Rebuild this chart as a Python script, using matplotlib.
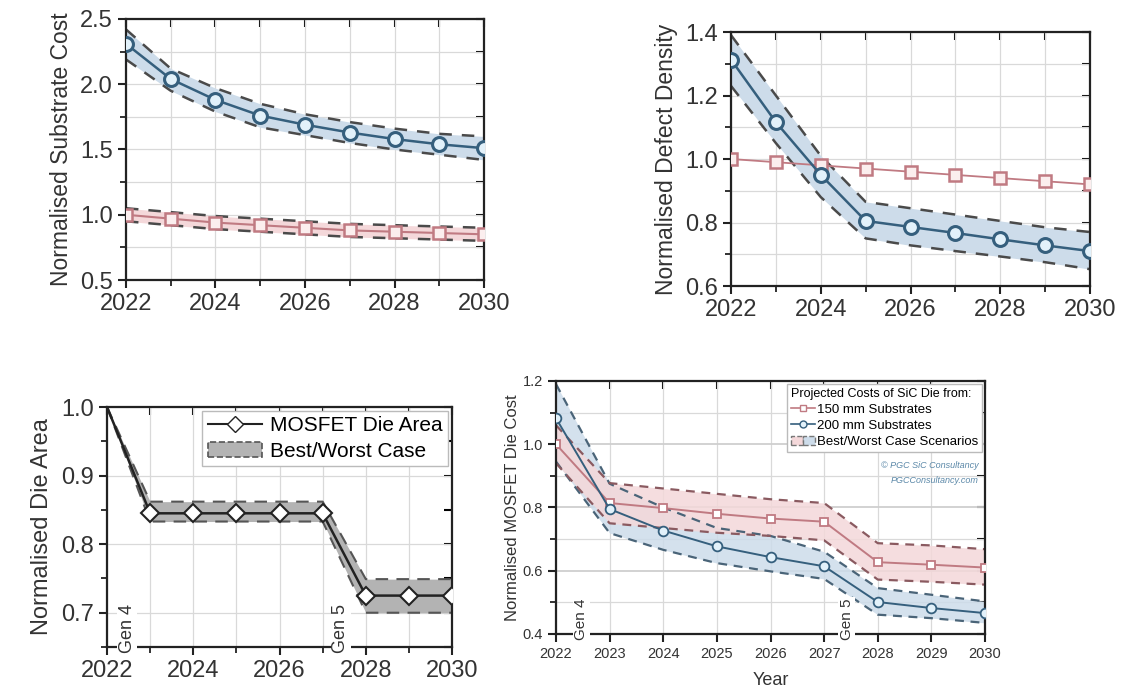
import numpy as np
import matplotlib
matplotlib.use('Agg')
import matplotlib.pyplot as plt
from matplotlib.ticker import MultipleLocator
from matplotlib.patches import Patch
from matplotlib.lines import Line2D
from matplotlib.legend_handler import HandlerTuple

plt.rcParams['font.family'] = ['Liberation Sans', 'DejaVu Sans']

years = [2022, 2023, 2024, 2025, 2026, 2027, 2028, 2029, 2030]

# substrate cost
sub_200 = [2.31, 2.04, 1.88, 1.76, 1.69, 1.63, 1.58, 1.54, 1.51]
sub_200_hi = [2.42, 2.12, 1.97, 1.85, 1.77, 1.71, 1.66, 1.62, 1.60]
sub_200_lo = [2.19, 1.95, 1.79, 1.67, 1.61, 1.55, 1.50, 1.46, 1.42]
sub_150 = [1.00, 0.97, 0.94, 0.92, 0.90, 0.88, 0.87, 0.86, 0.85]
sub_150_hi = [1.05, 1.02, 0.99, 0.97, 0.95, 0.93, 0.92, 0.91, 0.90]
sub_150_lo = [0.95, 0.92, 0.89, 0.87, 0.85, 0.83, 0.82, 0.81, 0.80]

# defect density
dd_200 = [1.313, 1.116, 0.95, 0.805, 0.786, 0.767, 0.747, 0.728, 0.71]
dd_200_hi = [1.39, 1.20, 1.01, 0.865, 0.845, 0.825, 0.805, 0.785, 0.77]
dd_200_lo = [1.23, 1.05, 0.88, 0.75, 0.728, 0.71, 0.693, 0.675, 0.653]
dd_150 = [1.00, 0.99, 0.98, 0.97, 0.96, 0.95, 0.94, 0.93, 0.92]

# die area
die_area = [1.0, 0.845, 0.845, 0.845, 0.845, 0.845, 0.725, 0.725, 0.725]
die_area_hi = [1.0, 0.862, 0.862, 0.862, 0.862, 0.862, 0.749, 0.749, 0.749]
die_area_lo = [1.0, 0.833, 0.833, 0.833, 0.833, 0.833, 0.70, 0.70, 0.70]

# die cost
dc_150 = [1.00, 0.814, 0.798, 0.78, 0.765, 0.755, 0.627, 0.619, 0.61]
dc_150_hi = [1.06, 0.877, 0.86, 0.843, 0.826, 0.814, 0.687, 0.68, 0.668]
dc_150_lo = [0.94, 0.75, 0.735, 0.72, 0.71, 0.696, 0.572, 0.565, 0.556]
dc_200 = [1.082, 0.795, 0.727, 0.677, 0.643, 0.614, 0.501, 0.482, 0.466]
dc_200_hi = [1.19, 0.875, 0.80, 0.735, 0.71, 0.66, 0.545, 0.524, 0.503]
dc_200_lo = [0.945, 0.719, 0.666, 0.624, 0.598, 0.574, 0.461, 0.45, 0.435]

gen_labels = ['Gen 4', 'Gen 5']
gen_x = [2022.47, 2027.42]

BLUE = '#355f7d'
BLUE_FILL = '#cddcea'
BLUE_FACE = '#e2f1fa'
RED = '#c07a82'
RED_FILL = '#f4d8da'
GRID = '#d9d9d9'


def style_axes(ax, ymaj, ymin, fs, xlab_step=2):
    ax.set_xlim(2022, 2030)
    ax.xaxis.set_major_locator(MultipleLocator(xlab_step))
    ax.xaxis.set_minor_locator(MultipleLocator(1))
    ax.yaxis.set_major_locator(MultipleLocator(ymaj))
    ax.yaxis.set_minor_locator(MultipleLocator(ymin))
    ax.grid(True, which='both', color=GRID, lw=0.9)
    ax.set_axisbelow(True)
    ax.tick_params(which='major', direction='out', length=6, width=1.5,
                   labelsize=fs, colors='#222222', labelcolor='#333333')
    ax.tick_params(which='minor', direction='out', length=4, width=1.3,
                   colors='#222222')
    for s in ax.spines.values():
        s.set_linewidth(1.6)
        s.set_color('#222222')
    # mirrored inward ticks on top and right
    top = ax.secondary_xaxis('top')
    top.xaxis.set_major_locator(MultipleLocator(xlab_step))
    top.xaxis.set_minor_locator(MultipleLocator(1))
    top.tick_params(which='both', direction='in', labeltop=False, width=1.5, length=6)
    top.spines['top'].set_visible(False)
    right = ax.secondary_yaxis('right')
    right.yaxis.set_major_locator(MultipleLocator(ymaj))
    right.yaxis.set_minor_locator(MultipleLocator(ymin))
    right.tick_params(which='both', direction='in', labelright=False, width=1.5, length=6)
    right.spines['right'].set_visible(False)


fig = plt.figure(figsize=(11.41, 6.90), dpi=100)

# ---- substrate cost
ax1 = fig.add_axes([0.1104, 0.5942, 0.3138, 0.3783])
ax1.fill_between(years, sub_200_lo, sub_200_hi, color=BLUE_FILL, lw=0)
ax1.plot(years, sub_200_hi, '--', color='#4a4a4a', lw=1.8, dashes=(5, 4))
ax1.plot(years, sub_200_lo, '--', color='#4a4a4a', lw=1.8, dashes=(5, 4))
ax1.plot(years, sub_200, '-o', color=BLUE, lw=1.8, ms=10, mfc=BLUE_FACE, mew=2.2,
         zorder=5)
ax1.fill_between(years, sub_150_lo, sub_150_hi, color=RED_FILL, lw=0)
ax1.plot(years, sub_150_hi, '--', color='#4a4a4a', lw=1.8, dashes=(5, 4))
ax1.plot(years, sub_150_lo, '--', color='#4a4a4a', lw=1.8, dashes=(5, 4))
ax1.plot(years, sub_150, '-s', color=RED, lw=1.5, ms=9, mfc='#fbeeee', mew=1.8,
         zorder=5)
ax1.set_ylim(0.5, 2.5)
style_axes(ax1, 0.5, 0.25, 17)
ax1.set_ylabel('Normalised Substrate Cost', fontsize=16.5, color='#333333', labelpad=5)

# ---- defect density
ax2 = fig.add_axes([0.6407, 0.5855, 0.3146, 0.3681])
ax2.fill_between(years, dd_200_lo, dd_200_hi, color=BLUE_FILL, lw=0)
ax2.plot(years, dd_200_hi, '--', color='#4a4a4a', lw=1.8, dashes=(5, 4))
ax2.plot(years, dd_200_lo, '--', color='#4a4a4a', lw=1.8, dashes=(5, 4))
ax2.plot(years, dd_150, '-s', color=RED, lw=1.3, ms=9, mfc='#fbeeee', mew=1.8,
         zorder=4)
ax2.plot(years, dd_200, '-o', color=BLUE, lw=1.8, ms=10, mfc=BLUE_FACE, mew=2.2,
         zorder=5)
ax2.set_ylim(0.6, 1.4)
style_axes(ax2, 0.2, 0.1, 17)
ax2.set_ylabel('Normalised Defect Density', fontsize=16.5, color='#333333', labelpad=5)

# ---- die area
ax3 = fig.add_axes([0.0938, 0.0623, 0.3024, 0.3478])
ax3.fill_between(years, die_area_lo, die_area_hi, color='#b3b3b3', lw=0)
ax3.plot(years, die_area_hi, '--', color='#555555', lw=1.5, dashes=(6, 4))
ax3.plot(years, die_area_lo, '--', color='#555555', lw=1.5, dashes=(6, 4))
ax3.plot(years, die_area, '-D', color='#222222', lw=1.8, ms=9, mfc='white', mew=1.5,
         markevery=list(range(1, len(years))), zorder=5)
ax3.set_ylim(0.65, 1.0)
style_axes(ax3, 0.1, 0.05, 17)
ax3.grid(False, which='minor', axis='y')
ax3.set_ylabel('Normalised Die Area', fontsize=17, color='#333333', labelpad=6)
for lab, gx in zip(gen_labels, gen_x):
    ax3.text(gx, 0.641, lab, rotation=90, ha='center', va='bottom', fontsize=13,
             color='#333333', zorder=10, clip_on=False,
             bbox=dict(facecolor='white', edgecolor='none', pad=1))
h3 = [Line2D([], [], color='#222222', marker='D', mfc='white', ms=8, lw=1.5),
      Patch(facecolor='#b3b3b3', edgecolor='#555555', ls='--', lw=1.2)]
ax3.legend(h3, ['MOSFET Die Area', 'Best/Worst Case'], loc='upper right',
           bbox_to_anchor=(1.0, 1.0), fontsize=15, frameon=True, fancybox=False,
           edgecolor='#bbbbbb', framealpha=1, borderpad=0.25, handlelength=2.6,
           labelspacing=0.3, borderaxespad=0.2, handletextpad=0.4)

# ---- die cost
ax4 = fig.add_axes([0.4873, 0.0812, 0.376, 0.3667])
ax4.fill_between(years, dc_200_lo, dc_200_hi, color=BLUE_FILL, alpha=0.85, lw=0)
ax4.fill_between(years, dc_150_lo, dc_150_hi, color=RED_FILL, alpha=0.85, lw=0)
for arr, c in [(dc_200_hi, '#4a6478'), (dc_200_lo, '#4a6478'),
               (dc_150_hi, '#8a5a60'), (dc_150_lo, '#8a5a60')]:
    ax4.plot(years, arr, '--', color=c, lw=1.6, dashes=(4, 3))
ax4.plot(years, dc_150, '-s', color=RED, lw=1.4, ms=6, mfc='white', mew=1.3,
         zorder=5)
ax4.plot(years, dc_200, '-o', color=BLUE, lw=1.4, ms=7, mfc=BLUE_FACE, mew=1.3,
         zorder=5)
ax4.set_ylim(0.4, 1.2)
style_axes(ax4, 0.2, 0.1, 10.5, xlab_step=1)
ax4.grid(True, which='major', axis='y', color='#cfcfcf', lw=1.3)
ax4.set_xlabel('Year', fontsize=13, color='#333333', labelpad=8)
ax4.set_ylabel('Normalised MOSFET Die Cost', fontsize=12, color='#333333', labelpad=2)
for lab, gx in zip(gen_labels, gen_x):
    ax4.text(gx, 0.38, lab, rotation=90, ha='center', va='bottom', fontsize=11,
             color='#333333', zorder=10, clip_on=False,
             bbox=dict(facecolor='white', edgecolor='none', pad=1))
h4 = [Line2D([], [], color=RED, marker='s', mfc='white', ms=5, lw=1.2),
      Line2D([], [], color=BLUE, marker='o', mfc=BLUE_FACE, ms=5, lw=1.2),
      (Patch(facecolor=RED_FILL, edgecolor='#777777', ls='--'),
       Patch(facecolor=BLUE_FILL, edgecolor='#777777', ls='--'))]
leg4 = ax4.legend(h4, ['150 mm Substrates', '200 mm Substrates', 'Best/Worst Case Scenarios'],
                  title='Projected Costs of SiC Die from:', loc='upper right',
                  bbox_to_anchor=(1.0, 1.0), frameon=True, fancybox=False,
                  fontsize=9.5, title_fontsize=9,
                  edgecolor='#bbbbbb', framealpha=1,
                  borderpad=0.3, handlelength=1.8, labelspacing=0.3, borderaxespad=0.2,
                  handletextpad=0.2, alignment='left',
                  handler_map={tuple: HandlerTuple(ndivide=None, pad=0.0)})
ax4.text(0.985, 0.655, '\u00a9 PGC SiC Consultancy', transform=ax4.transAxes, ha='right',
         fontsize=6.5, style='italic', color='#5b88a8')
ax4.text(0.985, 0.595, 'PGCConsultancy.com', transform=ax4.transAxes, ha='right',
         fontsize=6.5, style='italic', color='#5b88a8')

fig.savefig('out.png', dpi=100)
